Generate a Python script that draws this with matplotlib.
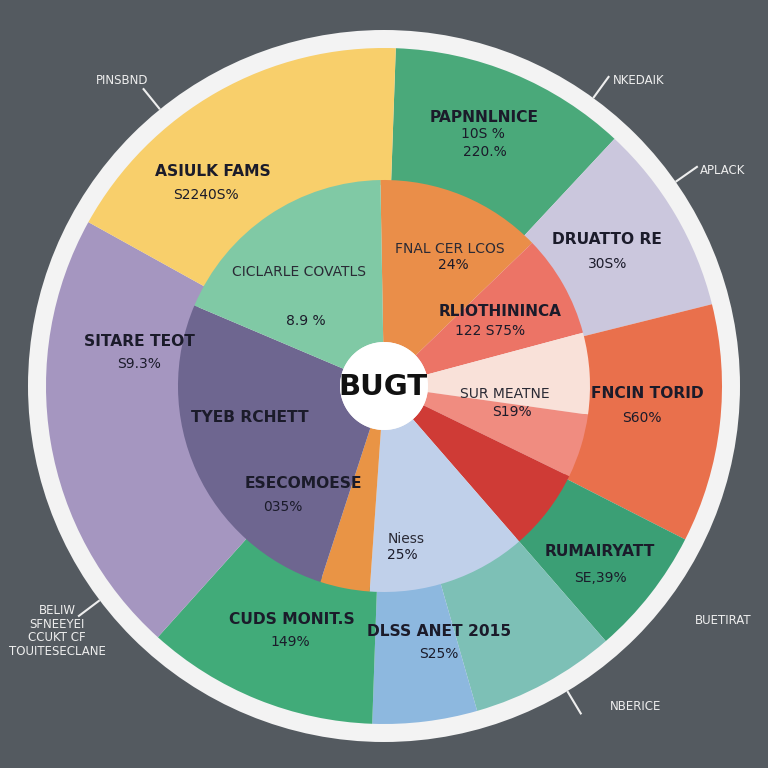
import numpy as np
import matplotlib.pyplot as plt
from matplotlib.patches import Circle

# outer ring, degrees clockwise starting at 2 deg past 12 o'clock
outer_names = ["PAPNNLNICE", "DRUATTO RE", "FNCIN TORID", "RUMAIRYATT", "DLSS teal",
               "DLSS blue", "CUDS MONIT.S", "SITARE TEOT", "ASIULK FAMS"]
outer_sizes = [41, 33, 41, 22, 25, 18, 40, 77, 63]
outer_colors = ["#4aa97a", "#cbc7dd", "#e9704c", "#3b9f75", "#7dc0b6",
                "#8db8df", "#41ab79", "#a596c0", "#f8cf6b"]

# inner ring, starting at -1 deg
inner_names = ["FNAL CER LCOS", "RLIOTHININCA", "SUR MEATNE", "pink", "red",
               "Niess", "orange", "TYEB RCHETT", "CICLARLE COVATLS"]
inner_sizes = [47, 29, 23, 18, 23, 45, 14, 95, 66]
inner_colors = ["#ea8e49", "#ec7466", "#f9e1d9", "#f08c80", "#cf3b36",
                "#c0d0ea", "#e99445", "#6e6690", "#80c9a5"]

# text labels (pixel positions in the 768 image)
bold_labels = [("ASIULK FAMS", 213, 172), ("PAPNNLNICE", 484, 117), ("DRUATTO RE", 607, 240),
               ("FNCIN TORID", 647, 393), ("RUMAIRYATT", 600, 552), ("DLSS ANET 2015", 439, 632),
               ("CUDS MONIT.S", 292, 619), ("SITARE TEOT", 139, 341), ("TYEB RCHETT", 250, 417),
               ("ESECOMOESE", 303, 484)]
value_labels = [("S2240S%", 206, 195), ("10S %", 483, 134), ("220.%", 485, 152), ("30S%", 608, 264),
                ("S60%", 642, 418), ("SE,39%", 600, 578), ("S25%", 439, 654), ("149%", 290, 642),
                ("S9.3%", 139, 364), ("8.9 %", 306, 321), ("24%", 453, 265), ("122 S75%", 490, 331),
                ("S19%", 512, 412), ("035%", 283, 507), ("25%", 402, 555)]
thin_labels = [("CICLARLE COVATLS", 299, 272), ("FNAL CER LCOS", 450, 249),
               ("SUR MEATNE", 505, 394), ("Niess", 406, 539)]
mid_labels = [("RLIOTHININCA", 500, 312)]

# outside callouts: text, text pos, ring angle (deg clockwise from top)
callouts = [("PINSBND", 122, 80, 321), ("NKEDAIK", 639, 80, 36), ("APLACK", 723, 170, 55),
            ("BUETIRAT", 723, 620, None), ("NBERICE", 636, 707, 149),
            ("BELIW\nSFNEEYEI\nCCUKT CF\nTOUITESECLANE", 57, 631, 233)]

cx, cy = 384, 386
R_out, R_ring, R_in, R_hole = 338, 356, 206, 44


def px(x, y):
    return x - 384, 384 - y


fig = plt.figure(figsize=(7.68, 7.68), dpi=100, facecolor="#545a60")
ax = fig.add_axes([0, 0, 1, 1])
ax.set_facecolor("#545a60")

c = px(cx, cy)
ax.add_patch(Circle(c, R_ring, facecolor="#f3f3f3", edgecolor="none", zorder=0))

ax.pie(outer_sizes, colors=outer_colors, startangle=88, counterclock=False,
       radius=R_out, center=c, frame=True,
       wedgeprops=dict(width=R_out - R_in + 5, edgecolor="none"))
ax.pie(inner_sizes, colors=inner_colors, startangle=91, counterclock=False,
       radius=R_in, center=c, frame=True,
       wedgeprops=dict(width=R_in - R_hole, edgecolor="none"))
ax.set_xlim(-384, 384)
ax.set_ylim(-384, 384)
ax.set_aspect("equal")
ax.axis("off")

ax.add_patch(Circle(c, R_hole, facecolor="white", edgecolor="none", zorder=5))
ax.text(*px(383, 387), "BUGT", ha="center", va="center", fontsize=21,
        fontweight="bold", color="#111111", zorder=6)

for t, x, y in bold_labels:
    ax.text(*px(x, y), t, ha="center", va="center", fontsize=11.2,
            fontweight="bold", color="#1b1b2a", zorder=6)
for t, x, y in mid_labels:
    ax.text(*px(x, y), t, ha="center", va="center", fontsize=11,
            fontweight="semibold", color="#1b1b2a", zorder=6)
for t, x, y in value_labels:
    ax.text(*px(x, y), t, ha="center", va="center", fontsize=10,
            color="#1b1b2a", zorder=6)
for t, x, y in thin_labels:
    ax.text(*px(x, y), t, ha="center", va="center", fontsize=10,
            color="#2a2a35", zorder=6)

for t, x, y, ang in callouts:
    ax.text(*px(x, y), t, ha="center", va="center", fontsize=8.5,
            color="#eeeeee", linespacing=1.05, zorder=6)
    if ang is None:
        continue
    a = np.deg2rad(ang)
    tip = (c[0] + (R_ring + 1) * np.sin(a), c[1] + (R_ring + 1) * np.cos(a))
    tail = (c[0] + (R_ring + 26) * np.sin(a), c[1] + (R_ring + 26) * np.cos(a))
    ax.plot([tip[0], tail[0]], [tip[1], tail[1]], color="#eeeeee", lw=1.5, zorder=6)

fig.savefig("out.png", dpi=100, facecolor=fig.get_facecolor())
